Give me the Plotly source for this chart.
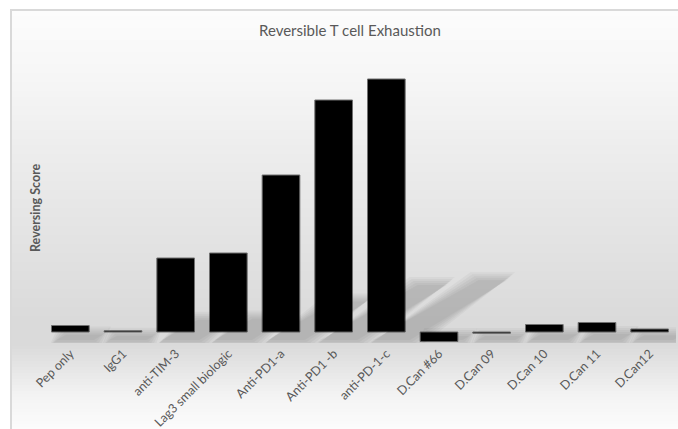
import numpy as np
import plotly.graph_objects as go

# ---------------- data ----------------
categories = ["Pep only", "IgG1", "anti-TIM-3", "Lag3 small biologic", "Anti-PD1-a",
              "Anti-PD1 -b", "anti-PD-1-c", "D.Can #66", "D.Can 09", "D.Can 10",
              "D.Can 11", "D.Can12"]
scores = [6.5, 1.2, 74, 79, 157, 232, 253, -9.5, -1.2, 7.5, 9.5, 3]
title_text = "Reversible T cell Exhaustion"
y_title = "Reversing Score"

# ---------------- layout geometry (pixels) ----------------
W, H = 678, 429
plot_left, plot_right = 44, 676
plot_top, plot_bottom = 42, 343
y_range = [-11, 290]
n = len(categories)
px_per_cat = (plot_right - plot_left) / n
bar_width = 0.715
font_family = "Lato, 'Open Sans', sans-serif"
text_color = "#595959"

fig = go.Figure()

# ---------------- soft perspective shadows (derived from the values) ----------------
for i, v in enumerate(scores):
    base_h = 4 + 0.22 * max(v, 0)
    shift = 1.7 * base_h / px_per_cat
    shrink = 0.12 * bar_width * min(1.0, base_h / 60)
    for g in (0, 2, 4, 6, 8):
        bottom = -8 - g
        top = -4 + 0.22 * max(v, 0) + g
        x0 = i - bar_width / 2 + (5 - g) / px_per_cat
        x1 = i + bar_width / 2 + (5 + g) / px_per_cat
        fig.add_trace(go.Scatter(
            x=[x0, x1, x1 + shift - shrink, x0 + shift + shrink, x0],
            y=[bottom, bottom, top, top, bottom],
            mode="lines", line=dict(width=0), fill="toself",
            fillcolor="rgba(0,0,0,0.035)", hoverinfo="skip", showlegend=False))

# ---------------- bars ----------------
fig.add_trace(go.Bar(
    x=list(range(n)), y=scores, width=bar_width,
    marker=dict(color="black", line=dict(color="#707070", width=1)),
    showlegend=False, hoverinfo="x+y"))

# ---------------- background gradient (vertical) ----------------
stops_y = [10, 70, 150, 250, 320, 345, 365, 395, 429]
stops_c = [252, 247, 237, 226, 218, 218, 228, 243, 252]
shapes = []
band = 3
for y in range(10, H, band):
    c = int(round(np.interp(y + band / 2, stops_y, stops_c)))
    shapes.append(dict(type="rect", xref="paper", yref="paper", layer="below",
                       x0=11 / W, x1=1.01, y0=1 - (y + band + 0.5) / H, y1=1 - y / H,
                       line=dict(width=0), fillcolor=f"rgb({c},{c},{c})"))
# chart frame
shapes.append(dict(type="rect", xref="paper", yref="paper", layer="below",
                   x0=11 / W, x1=1.02, y0=-0.02, y1=1 - 10 / H,
                   line=dict(color="#d9d9d9", width=2), fillcolor="rgba(0,0,0,0)"))

fig.update_layout(
    width=W, height=H,
    margin=dict(l=0, r=0, t=0, b=0),
    paper_bgcolor="white", plot_bgcolor="rgba(0,0,0,0)",
    bargap=0.285,
    shapes=shapes,
    xaxis=dict(domain=[plot_left / W, plot_right / W], range=[-0.5, n - 0.5],
               tickmode="array", tickvals=list(range(n)), ticktext=categories,
               tickangle=-45, showgrid=False, zeroline=False, showline=False,
               ticks="", ticklen=0, automargin=False,
               tickfont=dict(family=font_family, size=12.5, color=text_color)),
    yaxis=dict(domain=[1 - plot_bottom / H, 1 - plot_top / H], range=y_range,
               showticklabels=False, showgrid=False, zeroline=False, showline=False,
               ticks="", automargin=False),
    annotations=[
        dict(text=title_text, xref="paper", yref="paper", x=350 / W, y=1 - 30 / H,
             xanchor="center", yanchor="middle", showarrow=False,
             font=dict(family=font_family, size=15, color=text_color)),
        dict(text="<b>" + y_title + "</b>", xref="paper", yref="paper", x=35 / W,
             y=1 - 208 / H, xanchor="center", yanchor="middle", showarrow=False,
             textangle=-90, font=dict(family=font_family, size=12.5, color=text_color)),
    ],
)

fig.write_html("out.html")
